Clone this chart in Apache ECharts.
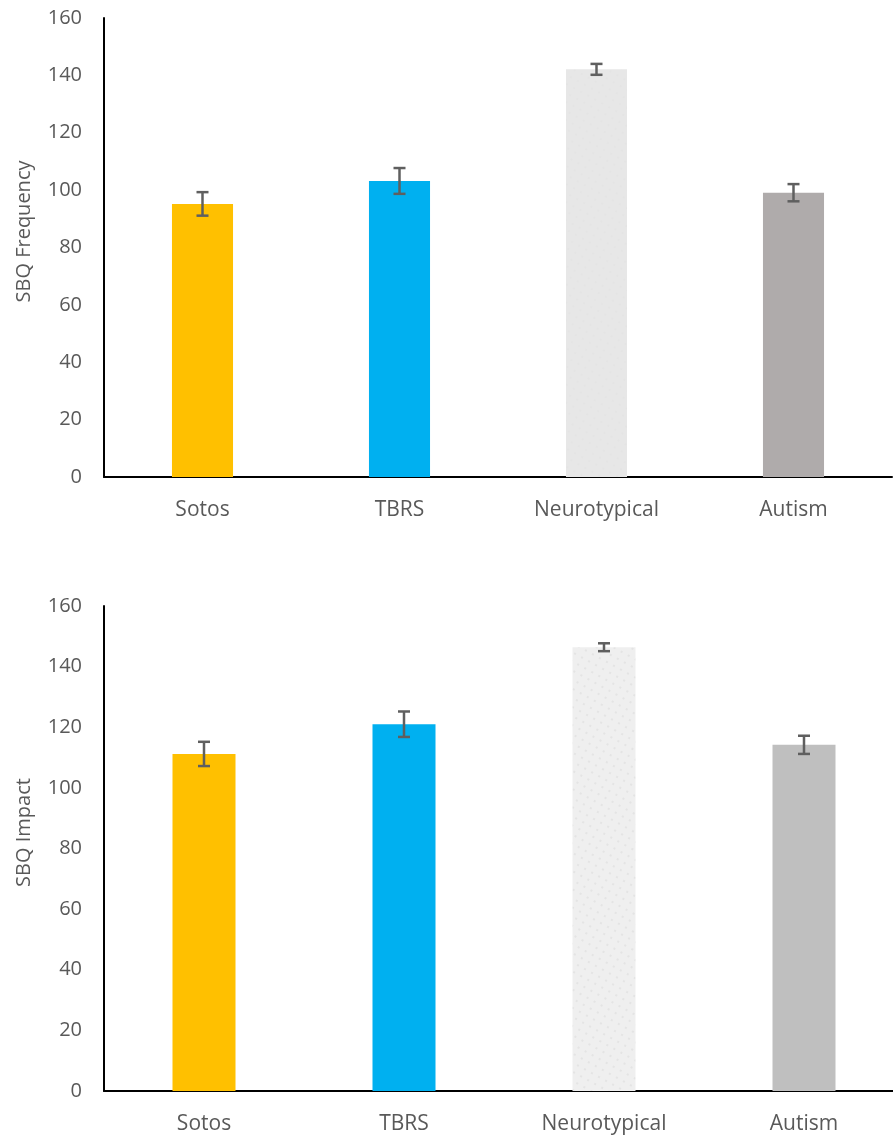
<!DOCTYPE html>
<html>
<head>
<meta charset="utf-8">
<script src="https://cdn.jsdelivr.net/npm/echarts@6/dist/echarts.min.js"></script>
<style>
html,body{margin:0;padding:0;background:#fff;}
#chart{width:893px;height:1137px;}
</style>
</head>
<body>
<div id="chart"></div>
<script>
const categories = ['Sotos', 'TBRS', 'Neurotypical', 'Autism'];
const freqMean = [95.2, 103.2, 142.1, 99.1];
const freqErr = [4.1, 4.5, 1.9, 3.0];
const impactMean = [111.2, 121.0, 146.4, 114.2];
const impactErr = [4.0, 4.2, 1.3, 3.0];
const topColors = ['#FFC000', '#00B0F0', '#E7E7E7', '#AFABAB'];
const bottomColors = ['#FFC000', '#00B0F0', '#EFEFEF', '#BFBFBF'];

const FONT = '"Open Sans", "Liberation Sans", sans-serif';
const TXT = '#595959';

function barData(vals, colors, dotted) {
  return vals.map((v, i) => {
    const item = { value: v, itemStyle: { color: colors[i] } };
    if (i === 2) {
      item.itemStyle.decal = {
        symbol: 'circle',
        symbolSize: dotted ? 0.35 : 0.25,
        color: dotted ? 'rgba(170,170,170,0.45)' : 'rgba(200,200,200,0.4)',
        dashArrayX: [4, 4],
        dashArrayY: [4, 4],
        rotation: 0.5
      };
    }
    return item;
  });
}

function errData(vals, errs) {
  return vals.map((v, i) => [i, v - errs[i], v + errs[i]]);
}

function errRender(params, api) {
  const x = api.value(0);
  const lo = api.coord([x, api.value(1)]);
  const hi = api.coord([x, api.value(2)]);
  const hw = 6;
  const st = { stroke: '#5F5F5F', lineWidth: 2.5 };
  return {
    type: 'group',
    children: [
      { type: 'line', shape: { x1: lo[0], y1: lo[1], x2: hi[0], y2: hi[1] }, style: st },
      { type: 'line', shape: { x1: lo[0] - hw, y1: lo[1], x2: lo[0] + hw, y2: lo[1] }, style: st },
      { type: 'line', shape: { x1: hi[0] - hw, y1: hi[1], x2: hi[0] + hw, y2: hi[1] }, style: st }
    ]
  };
}

function xAxis(gridIndex) {
  return {
    type: 'category', gridIndex, data: categories,
    axisLine: { lineStyle: { color: '#000', width: 2 } },
    axisTick: { show: false },
    axisLabel: { color: TXT, fontSize: 21, fontFamily: FONT, margin: 23 },
    splitLine: { show: false }
  };
}
function yAxis(gridIndex, name) {
  return {
    type: 'value', gridIndex, min: 0, max: 160, interval: 20,
    name, nameLocation: 'middle', nameGap: 70, nameRotate: 90,
    nameTextStyle: { color: TXT, fontSize: 20, fontFamily: FONT, padding: [0, 0, 0, 32] },
    axisLine: { show: true, lineStyle: { color: '#000', width: 2 } },
    axisTick: { show: false },
    axisLabel: { color: TXT, fontSize: 20, fontFamily: FONT, margin: 22 },
    splitLine: { show: false }
  };
}

const chart = echarts.init(document.getElementById('chart'));
chart.setOption({
  animation: false,
  backgroundColor: '#fff',
  grid: [
    { left: 104, right: 1, top: 18, height: 459, outerBoundsMode: 'none' },
    { left: 104, width: 800, top: 606, height: 485, outerBoundsMode: 'none' }
  ],
  xAxis: [xAxis(0), xAxis(1)],
  yAxis: [yAxis(0, 'SBQ Frequency'), yAxis(1, 'SBQ Impact')],
  series: [
    { type: 'bar', xAxisIndex: 0, yAxisIndex: 0, barWidth: '31%', data: barData(freqMean, topColors, false) },
    { type: 'custom', xAxisIndex: 0, yAxisIndex: 0, renderItem: errRender, data: errData(freqMean, freqErr), z: 10 },
    { type: 'bar', xAxisIndex: 1, yAxisIndex: 1, barWidth: '31.5%', data: barData(impactMean, bottomColors, true) },
    { type: 'custom', xAxisIndex: 1, yAxisIndex: 1, renderItem: errRender, data: errData(impactMean, impactErr), z: 10 }
  ]
});
</script>
</body>
</html>
